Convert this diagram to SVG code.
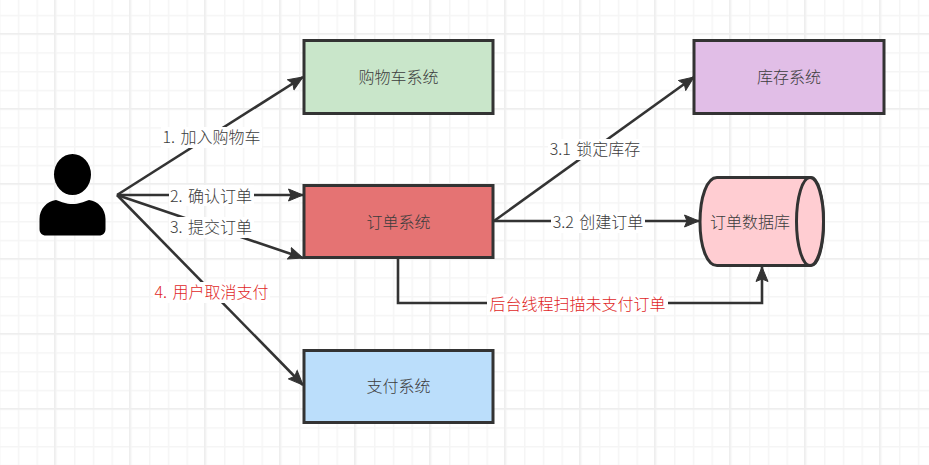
<svg xmlns="http://www.w3.org/2000/svg" width="929" height="465" viewBox="0 0 929 465">
  <style>
    text { font-family: "Noto Sans CJK SC", "Liberation Sans", sans-serif; font-size: 16px; font-weight: 300; word-spacing: 2px; fill: #3c3c3c; text-anchor: middle; dominant-baseline: central; }
    .box { stroke: #333; stroke-width: 3; }
    .line { fill: none; stroke: #333; stroke-width: 2.6; }
    .lab { fill: #fff; }
    .red { fill: #e01f1f; }
  </style>
  <defs>
    <pattern id="minor" width="18.75" height="18.75" patternUnits="userSpaceOnUse" x="-1" y="-4">
      <path d="M0 0.5H18.75M0.5 0V18.75" fill="none" stroke="#f5f5f5" stroke-width="2"/>
    </pattern>
    <pattern id="major" width="75" height="75" patternUnits="userSpaceOnUse" x="54" y="33">
      <path d="M0 0.5H75M0.5 0V75" fill="none" stroke="#eeeeee" stroke-width="2"/>
    </pattern>
    <marker id="arrow" markerUnits="userSpaceOnUse" markerWidth="16" markerHeight="14" refX="15" refY="7" orient="auto">
      <path d="M0.500 1L15 7L0.500 13L3 7Z" fill="#333" stroke="#333" stroke-width="1"/>
    </marker>
  </defs>
  <rect width="929" height="465" fill="#fff"/>
  <rect width="929" height="465" fill="url(#minor)"/>
  <rect width="929" height="465" fill="url(#major)"/>

  <g id="connectors">
    <path class="line" marker-end="url(#arrow)" d="M117 195L303 77"/>
    <path class="line" marker-end="url(#arrow)" d="M117 195H303"/>
    <path class="line" marker-end="url(#arrow)" d="M117 195L303 258"/>
    <path class="line" marker-end="url(#arrow)" d="M117 195L303 385"/>
    <path class="line" marker-end="url(#arrow)" d="M494 221L694 77"/>
    <path class="line" marker-end="url(#arrow)" d="M494 221H699"/>
    <path class="line" marker-end="url(#arrow)" d="M398 258V303H762V267"/>
    <rect class="lab" x="161" y="127" width="101" height="21"/>
    <text x="211.500" y="136">1. 加入购物车</text>
    <rect class="lab" x="169" y="185" width="85" height="21"/>
    <text x="211" y="195">2. 确认订单</text>
    <rect class="lab" x="169" y="217" width="85" height="21"/>
    <text x="211" y="226">3. 提交订单</text>
    <rect class="lab" x="153" y="282" width="117" height="21"/>
    <text class="red" x="211.500" y="291">4. 用户取消支付</text>
    <rect class="lab" x="548" y="139" width="94" height="21"/>
    <text x="595" y="148">3.1 锁定库存</text>
    <rect class="lab" x="551" y="212" width="94" height="21"/>
    <text x="598" y="221">3.2 创建订单</text>
    <rect class="lab" x="487" y="294" width="181" height="21"/>
    <text class="red" x="577.500" y="303">后台线程扫描未支付订单</text>
  </g>

  <g id="user">
    <ellipse cx="72.500" cy="174.500" rx="18.500" ry="20.500" fill="#000"/>
    <path d="M56 200C62 202 66 204 72.500 204C79 204 83 202 89 200C98 201 105.500 209 105.500 219V229C105.500 233 103 235.500 99 235.500H46C42 235.500 39.500 233 39.500 229V219C39.500 209 47 201 56 200Z" fill="#000"/>
  </g>
  <g id="cart-system">
    <rect class="box" x="304" y="40.500" width="189" height="73" fill="#c9e6ca"/>
    <text x="398.500" y="76">购物车系统</text>
  </g>
  <g id="order-system">
    <rect class="box" x="304" y="185.500" width="189" height="72" fill="#e57373"/>
    <text x="398.500" y="221">订单系统</text>
  </g>
  <g id="payment-system">
    <rect class="box" x="304" y="350.500" width="189" height="72" fill="#bbdefb"/>
    <text x="398.500" y="385">支付系统</text>
  </g>
  <g id="inventory-system">
    <rect class="box" x="694" y="40.500" width="190" height="73" fill="#e1bee7"/>
    <text x="789" y="76">库存系统</text>
  </g>
  <g id="order-database">
    <path class="box" d="M717 177.500H811C818 177.500 823.500 197 823.500 222C823.500 247 818 265.500 811 265.500H717C707 265.500 700 247 700 222C700 197 707 177.500 717 177.500Z" fill="#ffcdd2"/>
    <ellipse class="box" cx="810" cy="221.500" rx="13.500" ry="44" fill="#ffcdd2"/>
    <text x="750" y="221">订单数据库</text>
  </g>
</svg>
